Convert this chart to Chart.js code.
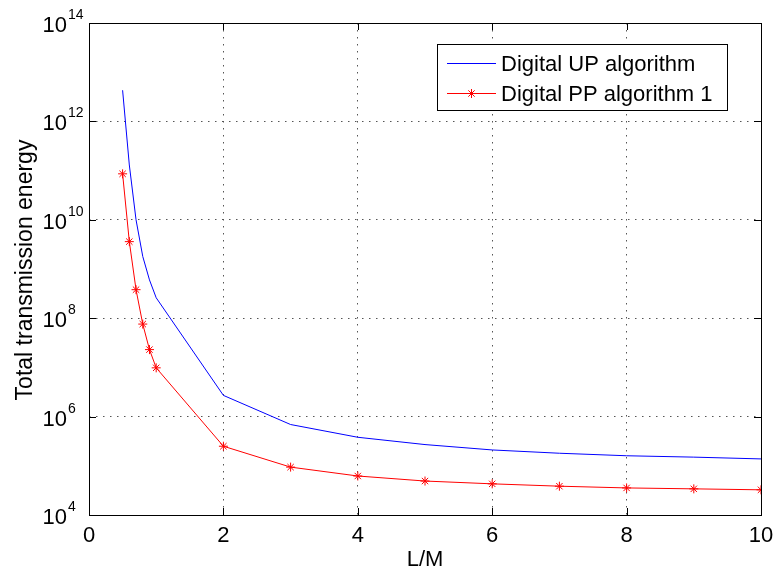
<!DOCTYPE html>
<html>
<head>
<meta charset="utf-8">
<title>Total transmission energy</title>
<script src="https://cdn.jsdelivr.net/npm/chart.js@4.4.0/dist/chart.umd.min.js"></script>
<style>
  html, body { margin: 0; padding: 0; background: #fff; }
  #grafica { display: block; }
</style>
</head>
<body>
<canvas id="grafica" width="776" height="571"></canvas>
<script>
// Datos: L/M y energía total para cada algoritmo
var razonLM = [0.5, 0.6, 0.7, 0.8, 0.9, 1, 2, 3, 4, 5, 6, 7, 8, 9, 10];
var energiaUP = [4.3e12, 1.3e11, 1.0e10, 1.8e9, 6.0e8, 2.6e8, 2.7e6, 6.9e5, 3.8e5, 2.7e5, 2.1e5, 1.8e5, 1.6e5, 1.5e5, 1.38e5];
var energiaPP = [8.6e10, 3.6e9, 3.8e8, 7.6e7, 2.3e7, 9.8e6, 2.5e5, 9.4e4, 6.2e4, 4.9e4, 4.3e4, 3.85e4, 3.55e4, 3.4e4, 3.25e4];

var ticksX = [0, 2, 4, 6, 8, 10];
var ticksY = [1e4, 1e6, 1e8, 1e10, 1e12, 1e14];

var nombreUP = 'Digital UP algorithm';
var nombrePP = 'Digital PP algorithm 1';
var tituloX = 'L/M';
var tituloY = 'Total transmission energy';

var fuente = '"Liberation Sans", Arial, Helvetica, sans-serif';

function puntos(xs, ys) {
    return xs.map(function(x, i) { return { x: x, y: ys[i] }; });
}

// Dibuja un asterisco (cruz + aspa) como el marcador de la serie
function asterisco(ctx, x, y, r) {
    var d = r * Math.SQRT1_2;
    ctx.beginPath();
    ctx.moveTo(x - r, y); ctx.lineTo(x + r, y);
    ctx.moveTo(x, y - r); ctx.lineTo(x, y + r);
    ctx.moveTo(x - d, y - d); ctx.lineTo(x + d, y + d);
    ctx.moveTo(x - d, y + d); ctx.lineTo(x + d, y - d);
    ctx.stroke();
}

// Caja de ejes, marcas interiores, etiquetas con exponentes y leyenda
var marcoPlugin = {
    id: 'marco',
    afterDraw: function(chart) {
        var ctx = chart.ctx;
        var area = chart.chartArea;
        var sx = chart.scales.x;
        var sy = chart.scales.y;
        ctx.save();

        ctx.strokeStyle = '#000';
        ctx.lineWidth = 1;
        ctx.strokeRect(area.left + 0.5, area.top + 0.5, area.right - area.left, area.bottom - area.top);

        ctx.beginPath();
        ticksY.forEach(function(v) {
            var y = Math.round(sy.getPixelForValue(v)) + 0.5;
            ctx.moveTo(area.left, y); ctx.lineTo(area.left + 7, y);
            ctx.moveTo(area.right, y); ctx.lineTo(area.right - 7, y);
        });
        ticksX.forEach(function(v) {
            var x = Math.round(sx.getPixelForValue(v)) + 0.5;
            ctx.moveTo(x, area.bottom); ctx.lineTo(x, area.bottom - 7);
            ctx.moveTo(x, area.top); ctx.lineTo(x, area.top + 7);
        });
        ctx.stroke();

        ctx.fillStyle = '#000';
        ctx.textBaseline = 'alphabetic';
        ticksY.forEach(function(v) {
            var y = sy.getPixelForValue(v);
            ctx.font = '22px ' + fuente;
            ctx.textAlign = 'right';
            ctx.fillText('10', 67, y + 9);
            ctx.font = '14px ' + fuente;
            ctx.textAlign = 'left';
            ctx.fillText(String(Math.round(Math.log10(v))), 68, y - 4);
        });

        ctx.font = '22px ' + fuente;
        ctx.textAlign = 'center';
        ticksX.forEach(function(v) {
            ctx.fillText(String(v), sx.getPixelForValue(v), 542);
        });
        ctx.fillText(tituloX, (area.left + area.right) / 2, 566);

        ctx.save();
        ctx.font = '23px ' + fuente;
        ctx.translate(32, (area.top + area.bottom) / 2 + 1);
        ctx.rotate(-Math.PI / 2);
        ctx.fillText(tituloY, 0, 0);
        ctx.restore();

        // Leyenda
        var lx = 437.5, ly = 44.5, lw = 290, lh = 66;
        ctx.fillStyle = '#fff';
        ctx.fillRect(lx, ly, lw, lh);
        ctx.strokeStyle = '#000';
        ctx.strokeRect(lx, ly, lw, lh);

        ctx.lineWidth = 1;
        ctx.strokeStyle = '#0000ff';
        ctx.beginPath(); ctx.moveTo(447, 63.5); ctx.lineTo(496, 63.5); ctx.stroke();
        ctx.strokeStyle = '#ff0000';
        ctx.beginPath(); ctx.moveTo(447, 93.5); ctx.lineTo(496, 93.5); ctx.stroke();
        asterisco(ctx, 471.5, 93.5, 4.5);

        ctx.fillStyle = '#000';
        ctx.textAlign = 'left';
        ctx.font = '22px ' + fuente;
        ctx.fillText(nombreUP, 501, 71);
        ctx.fillText(nombrePP, 501, 101);

        ctx.restore();
    }
};

var ctx = document.getElementById('grafica').getContext('2d');
new Chart(ctx, {
    type: 'line',
    data: {
        datasets: [
            {
                label: nombreUP,
                data: puntos(razonLM, energiaUP),
                borderColor: '#0000ff',
                borderWidth: 1,
                pointRadius: 0,
                fill: false,
                tension: 0
            },
            {
                label: nombrePP,
                data: puntos(razonLM, energiaPP),
                borderColor: '#ff0000',
                borderWidth: 1,
                pointStyle: 'star',
                pointRadius: 4.5,
                pointBorderColor: '#ff0000',
                pointBorderWidth: 1,
                fill: false,
                tension: 0
            }
        ]
    },
    options: {
        responsive: false,
        animation: false,
        events: [],
        layout: {
            padding: { left: 89, right: 15, top: 23, bottom: 56 }
        },
        plugins: {
            legend: { display: false },
            tooltip: { enabled: false }
        },
        scales: {
            x: {
                type: 'linear',
                min: 0,
                max: 10,
                afterFit: function(s) { s.height = 0; },
                afterBuildTicks: function(s) { s.ticks = ticksX.map(function(v) { return { value: v }; }); },
                ticks: { display: false },
                grid: { color: '#555', lineWidth: 1, drawTicks: false },
                border: { display: false, dash: [1.5, 5.5] }
            },
            y: {
                type: 'logarithmic',
                min: 1e4,
                max: 1e14,
                afterFit: function(s) { s.width = 0; },
                afterBuildTicks: function(s) { s.ticks = ticksY.map(function(v) { return { value: v }; }); },
                ticks: { display: false },
                grid: { color: '#555', lineWidth: 1, drawTicks: false },
                border: { display: false, dash: [1.5, 5.5] }
            }
        }
    },
    plugins: [marcoPlugin]
});
</script>
</body>
</html>
